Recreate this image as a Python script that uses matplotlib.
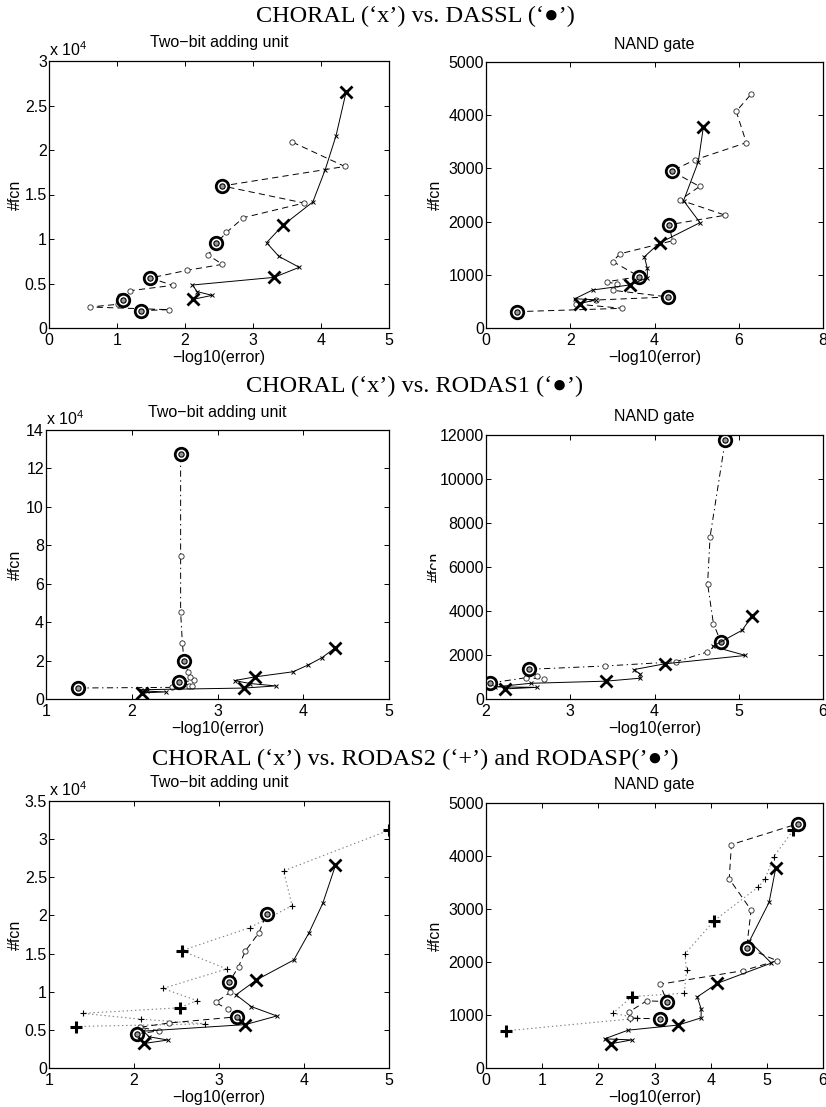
import numpy as np
import matplotlib
matplotlib.use('Agg')
from matplotlib import pyplot as plt
from matplotlib.ticker import FuncFormatter
from matplotlib.transforms import Bbox, TransformedBbox

# CHORAL results (same runs in every row)
choral_add_x = [2.12, 2.40, 2.18, 2.11, 3.31, 3.68, 3.38, 3.20, 3.44, 3.88, 4.06, 4.22, 4.37]
choral_add_y = [3220, 3670, 4080, 4830, 5690, 6820, 8050, 9590, 11540, 14160, 17750, 21570, 26550]
choral_nand_x = [2.23, 2.60, 2.11, 2.53, 3.42, 3.83, 3.83, 3.76, 4.12, 5.08, 4.69, 5.04, 5.16]
choral_nand_y = [460, 530, 550, 714, 810, 946, 1120, 1340, 1598, 1980, 2393, 3126, 3778]

# DASSL
dassl_add_x = [1.35, 1.76, 0.60, 1.01, 1.09, 1.05, 1.19, 1.82, 1.49, 2.03, 2.55, 2.34, 2.46,
               2.61, 2.86, 3.75, 2.55, 4.35, 3.58]
dassl_add_y = [1950, 2060, 2360, 2660, 3110, 3600, 4190, 4790, 5620, 6480, 7150, 8200, 9510,
               10740, 12400, 14040, 15960, 18150, 20880]
dassl_nand_x = [0.73, 3.24, 2.13, 2.61, 4.33, 3.02, 3.10, 2.88, 3.64, 3.01, 3.18, 4.43, 4.34,
                5.68, 4.61, 5.07, 4.41, 4.95, 6.18, 5.94, 6.29]
dassl_nand_y = [307, 370, 451, 526, 583, 708, 821, 871, 965, 1250, 1395, 1640, 1940,
                2120, 2406, 2660, 2951, 3158, 3484, 4072, 4393]

# RODAS1
rodas1_add_x = [1.37, 2.47, 2.67, 2.70, 2.55, 2.73, 2.68, 2.66, 2.61, 2.59, 2.57, 2.57, 2.57]
rodas1_add_y = [5720, 6050, 6600, 6900, 8700, 9700, 11400, 14000, 19550, 29300, 45200, 74500, 127400]
rodas1_nand_x = [2.05, 2.47, 2.69, 2.61, 2.51, 3.41, 4.25, 4.62, 4.79, 4.70, 4.63, 4.66, 4.84]
rodas1_nand_y = [726, 965, 912, 1065, 1350, 1500, 1690, 2130, 2580, 3418, 5234, 7381, 11770]

# RODAS2 and RODASP
rodas2_add_x = [1.32, 2.84, 2.08, 1.40, 2.54, 2.74, 2.34, 3.09, 2.56, 3.36, 3.86, 3.76, 5.00]
rodas2_add_y = [5440, 5790, 6400, 7160, 7900, 8840, 10430, 12980, 15380, 18390, 21270, 25840, 31160]
rodasp_add_x = [2.04, 2.29, 2.07, 2.41, 3.21, 3.10, 2.96, 3.13, 3.12, 3.23, 3.31, 3.47, 3.56]
rodasp_add_y = [4450, 4880, 5340, 5900, 6710, 7710, 8600, 9910, 11240, 13290, 15340, 17730, 20220]
rodas2_nand_x = [0.36, 2.57, 2.68, 2.26, 2.60, 3.53, 3.57, 3.54, 4.06, 4.85, 4.97, 5.12, 5.47]
rodas2_nand_y = [702, 925, 945, 1035, 1348, 1411, 1850, 2151, 2778, 3418, 3569, 3983, 4485]
rodasp_nand_x = [3.10, 2.56, 2.55, 2.86, 3.22, 3.10, 4.58, 5.18, 4.64, 4.72, 4.33, 4.37, 5.56]
rodasp_nand_y = [928, 941, 1060, 1267, 1254, 1581, 1837, 2025, 2270, 2979, 3569, 4216, 4611]

row_titles = ["CHORAL (\u2018x\u2019) vs. DASSL (\u2018\u25cf\u2019)",
              "CHORAL (\u2018x\u2019) vs. RODAS1 (\u2018\u25cf\u2019)",
              "CHORAL (\u2018x\u2019) vs. RODAS2 (\u2018+\u2019) and RODASP(\u2019\u25cf\u2019)"]

plt.rcParams['font.family'] = ['Liberation Sans', 'DejaVu Sans']
plt.rcParams['mathtext.fontset'] = 'custom'
plt.rcParams['mathtext.rm'] = 'Liberation Sans'
plt.rcParams['lines.scale_dashes'] = False

W, H = 826, 1107
FS = 11.5
DASH = (0, (4.5, 3))
DASHDOT = (0, (4.5, 2.5, 1, 2.5))
DOT = (0, (1, 2))
EVERY4 = slice(None, None, 4)

fig = plt.figure(figsize=(W / 100, H / 100), dpi=100)


def make_axes(l, r, t, b):
    return fig.add_axes([l / W, 1 - b / H, (r - l) / W, (b - t) / H])


def setup(ax, box, title, xlim, xticks, ylim, yticks, ylab_x, scale=None):
    l, r, t, b = box
    ax.set_xlim(xlim)
    ax.set_ylim(ylim)
    ax.set_xticks(xticks)
    ax.set_yticks(yticks)
    if scale:
        ax.yaxis.set_major_formatter(FuncFormatter(lambda v, p: '%g' % (v / scale)))
        ax.text(0.0, 1.0 + 2.0 / (b - t), r'x 10$^\mathregular{4}$', transform=ax.transAxes,
                ha='left', va='bottom', fontsize=FS)
    ax.tick_params(direction='in', top=True, right=True, length=3.5, width=0.7, labelsize=FS)
    ax.tick_params(axis='x', pad=3.5)
    ax.tick_params(axis='y', pad=1.5)
    for s in ax.spines.values():
        s.set_linewidth(0.9)
    ax.set_xlabel('\u2212log10(error)', fontsize=FS, labelpad=1.5)
    ax.set_ylabel('#fcn', fontsize=FS)
    ax.yaxis.set_label_coords((ylab_x - l) / (r - l), 0.5)
    ax.text(0.5, 1.0 + 18.0 / (b - t), title, transform=ax.transAxes,
            ha='center', va='center', fontsize=FS)


def plot_choral(ax, x, y):
    ax.plot(x, y, '-', color='k', lw=0.7, marker='x', ms=3.5, mew=0.7)
    ax.plot(x, y, ls='none', marker='x', ms=8, mew=2.0, color='k', markevery=EVERY4)


def plot_circles(ax, x, y, ls, big=EVERY4):
    ax.plot(x, y, ls=ls, color='k', lw=0.7, marker='o', ms=3.8, mew=0.6,
            mec='0.15', mfc='white')
    ax.plot(x, y, ls='none', marker='o', ms=9, mew=2.0, mec='k', mfc='white', markevery=big)
    ax.plot(x, y, ls='none', marker='o', ms=3.8, mew=0.8, mec='k', mfc='0.6', markevery=big)


def plot_plus(ax, x, y):
    ax.plot(x, y, ls=DOT, color='0.5', lw=0.8)
    ax.plot(x, y, ls='none', marker='+', ms=4, mew=0.8, color='k')
    ax.plot(x, y, ls='none', marker='+', ms=8.5, mew=2.2, color='k', markevery=EVERY4)


boxes = [(49, 389, 61, 328), (486, 823, 62, 328),
         (46, 389, 430, 699), (486, 823, 435, 699),
         (49, 389, 801, 1068), (486, 823, 803, 1068)]

# row 1: DASSL
ax = make_axes(*boxes[0])
plot_circles(ax, dassl_add_x, dassl_add_y, DASH)
plot_choral(ax, choral_add_x, choral_add_y)
setup(ax, boxes[0], 'Two\u2212bit adding unit', (0, 5), range(0, 6),
      (0, 30000), range(0, 30001, 5000), 23, scale=1e4)

ax = make_axes(*boxes[1])
plot_circles(ax, dassl_nand_x, dassl_nand_y, DASH, big=slice(0, 17, 4))
plot_choral(ax, choral_nand_x, choral_nand_y)
setup(ax, boxes[1], 'NAND gate', (0, 8), range(0, 9, 2),
      (0, 5000), range(0, 5001, 1000), 443)

# row 2: RODAS1
ax = make_axes(*boxes[2])
plot_circles(ax, rodas1_add_x, rodas1_add_y, DASHDOT)
plot_choral(ax, choral_add_x, choral_add_y)
setup(ax, boxes[2], 'Two\u2212bit adding unit', (1, 5), range(1, 6),
      (0, 140000), range(0, 140001, 20000), 23, scale=1e4)

ax = make_axes(*boxes[3])
plot_circles(ax, rodas1_nand_x, rodas1_nand_y, DASHDOT)
plot_choral(ax, choral_nand_x, choral_nand_y)
setup(ax, boxes[3], 'NAND gate', (2, 6), range(2, 7),
      (0, 12000), range(0, 12001, 2000), 443)
lab = ax.yaxis.label
lab.set_clip_on(True)
lab.set_clip_box(TransformedBbox(Bbox([[0, 0], [436 / W, 1]]), fig.transFigure))

# row 3: RODAS2 and RODASP
ax = make_axes(*boxes[4])
plot_plus(ax, rodas2_add_x, rodas2_add_y)
plot_circles(ax, rodasp_add_x, rodasp_add_y, DASH)
plot_choral(ax, choral_add_x, choral_add_y)
setup(ax, boxes[4], 'Two\u2212bit adding unit', (1, 5), range(1, 6),
      (0, 35000), range(0, 35001, 5000), 23, scale=1e4)

ax = make_axes(*boxes[5])
plot_plus(ax, rodas2_nand_x, rodas2_nand_y)
plot_circles(ax, rodasp_nand_x, rodasp_nand_y, DASH)
plot_choral(ax, choral_nand_x, choral_nand_y)
setup(ax, boxes[5], 'NAND gate', (0, 6), range(0, 7),
      (0, 5000), range(0, 5001, 1000), 443)

for txt, yc in zip(row_titles, [16, 386, 759]):
    fig.text(415 / W, 1 - yc / H, txt, ha='center', va='center', fontsize=17.5,
             family=['Liberation Serif', 'DejaVu Sans'])

fig.savefig('out.png', dpi=100)
